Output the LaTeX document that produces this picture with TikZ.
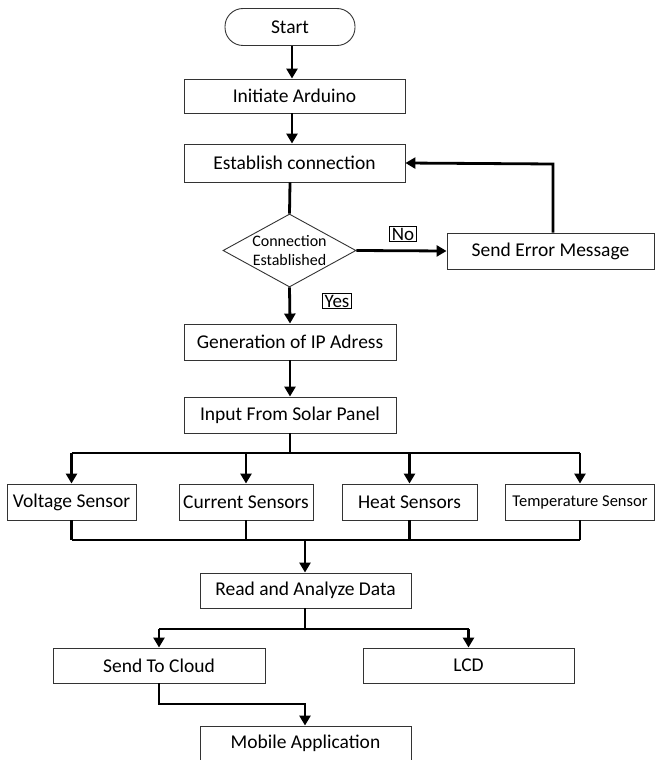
\documentclass[tikz,border=0pt]{standalone}
\usepackage{fontspec}
\setmainfont{Carlito}
\usetikzlibrary{arrows.meta,shapes.geometric}
\tikzset{
  box/.style={draw=black!80,line width=0.9pt,rectangle,inner sep=0pt,font=\fontsize{19.5}{21}\selectfont},
  term/.style={box,rounded corners=18pt},
  dec/.style={draw=black!80,line width=0.9pt,diamond,inner sep=0pt,aspect=1.8,align=center,font=\fontsize{16}{18.5}\selectfont},
  lbl/.style={draw=black,line width=0.8pt,inner xsep=2pt,inner ysep=1pt,font=\fontsize{19}{19}\selectfont},
  flow/.style={line width=2.8pt,-{Triangle[length=10pt,width=11pt]}},
  seg/.style={line width=2.8pt},
}
\begin{document}
\begin{tikzpicture}[x=1pt,y=-1pt]
\useasboundingbox (0,0) rectangle (656,760);
\node[term,minimum width=130pt,minimum height=37pt] (start) at (290,27) {Start};
\node[box,minimum width=221pt,minimum height=34pt] (init) at (294.5,96) {Initiate Arduino};
\node[box,minimum width=221pt,minimum height=38pt] (est) at (294.5,163) {Establish connection};
\node[dec,minimum width=133pt,minimum height=73pt] (dec) at (289.5,250.5) {Connection\\Established};
\node[box,minimum width=207pt,minimum height=36pt] (err) at (550.5,251) {Send Error Message};
\node[lbl] (no) at (403,234) {No};
\node[lbl] (yes) at (337,301) {Yes};
\node[box,minimum width=212pt,minimum height=36pt] (ip) at (290,342) {Generation of IP Adress};
\node[box,minimum width=212pt,minimum height=36pt] (solar) at (290,415) {Input From Solar Panel};
\node[box,minimum width=129pt,minimum height=36pt] (volt) at (71.5,502) {Voltage Sensor};
\node[box,minimum width=134pt,minimum height=36pt] (curr) at (246,502) {Current Sensors};
\node[box,minimum width=135pt,minimum height=36pt] (heat) at (409.5,502) {Heat Sensors};
\node[box,minimum width=149pt,minimum height=36pt,font=\fontsize{16.5}{18}\selectfont] (temp) at (580,502) {Temperature Sensor};
\node[box,minimum width=211pt,minimum height=35pt] (read) at (305.5,590.5) {Read and Analyze Data};
\node[box,minimum width=212pt,minimum height=35pt] (cloud) at (159,665.5) {Send To Cloud};
\node[box,minimum width=211pt,minimum height=35pt] (lcd) at (468.5,665.5) {LCD};
\node[box,minimum width=211pt,minimum height=35pt] (mob) at (305.5,743.5) {Mobile Application};
% top chain
\draw[flow] (start.south -| 292,0) -- (init.north -| 292,0);
\draw[flow] (init.south -| 292,0) -- (est.north -| 292,0);
\draw[seg] (est.south -| 290,0) -- (dec.north);
\draw[flow] (dec.east) -- (err.west);
\coordinate (eu) at (553,164);
\draw[flow] (err.north -| eu) -- (eu) -- (est.east);
\draw[flow] (dec.south) -- (ip.north);
\draw[flow] (ip.south) -- (solar.north);
% sensors
\coordinate (bt) at (290,453);
\draw[seg] (solar.south) -- (bt);
\draw[seg] (volt.north |- bt) -- (temp.north |- bt);
\draw[flow] (volt.north |- bt) -- (volt.north);
\draw[flow] (curr.north |- bt) -- (curr.north);
\draw[flow] (heat.north |- bt) -- (heat.north);
\draw[flow] (temp.north |- bt) -- (temp.north);
\coordinate (bb) at (305,540);
\draw[seg] (volt.south) -- (volt.south |- bb);
\draw[seg] (curr.south) -- (curr.south |- bb);
\draw[seg] (heat.south) -- (heat.south |- bb);
\draw[seg] (temp.south) -- (temp.south |- bb);
\draw[seg] (volt.south |- bb) -- (temp.south |- bb);
\draw[flow] (bb) -- (read.north -| bb);
% outputs
\coordinate (ob) at (305,629);
\draw[seg] (read.south -| ob) -- (ob);
\draw[seg] (cloud.north |- ob) -- (lcd.north |- ob);
\draw[flow] (cloud.north |- ob) -- (cloud.north);
\draw[flow] (lcd.north |- ob) -- (lcd.north);
\coordinate (mb) at (305,704);
\draw[flow] (cloud.south) -- (cloud.south |- mb) -- (mb) -- (mob.north -| mb);
\end{tikzpicture}
\end{document}
